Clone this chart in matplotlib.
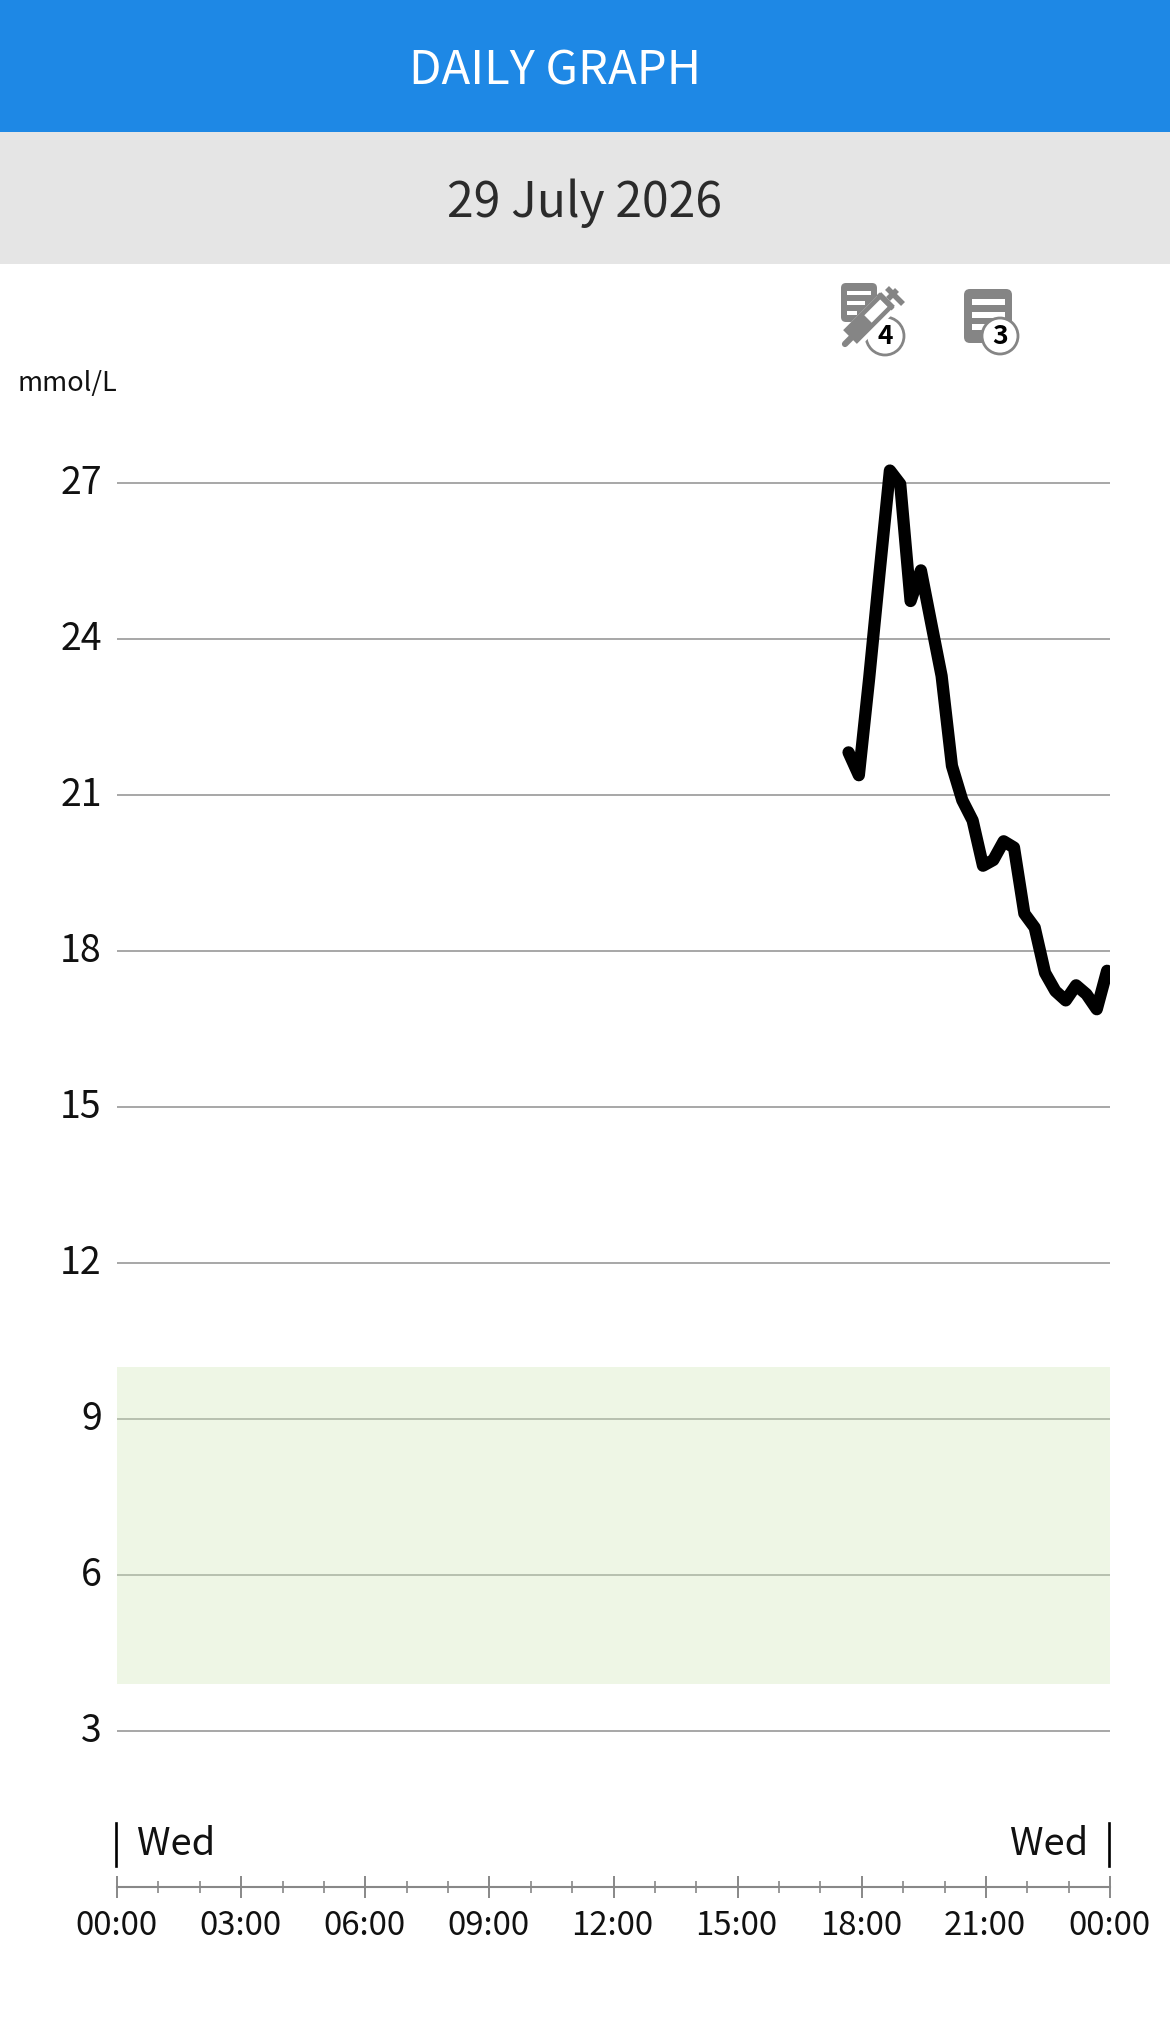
import matplotlib
matplotlib.use("Agg")
import matplotlib.pyplot as plt
from matplotlib.patches import Circle, FancyBboxPatch, Rectangle
from matplotlib.transforms import ScaledTranslation

# ==========================================================
# DATA
# ==========================================================

HOURS = [
    17.68, 17.93, 18.18, 18.43, 18.68, 18.93, 19.18, 19.43, 19.68, 19.93,
    20.18, 20.43, 20.68, 20.93, 21.18, 21.43, 21.68, 21.93, 22.18, 22.43,
    22.68, 22.93, 23.18, 23.43, 23.68, 23.93,
]
GLUCOSE = [
    21.82, 21.38, 23.25, 25.27, 27.24, 26.98, 24.73, 25.32, 24.30, 23.29,
    21.56, 20.90, 20.51, 19.64, 19.75, 20.11, 19.99, 18.72, 18.45, 17.58,
    17.23, 17.05, 17.34, 17.17, 16.88, 17.62,
]

Y_TICKS = [3, 6, 9, 12, 15, 18, 21, 24, 27]
X_MAJOR = [0, 3, 6, 9, 12, 15, 18, 21, 24]
X_MINOR = list(range(25))
X_LABELS = ["00:00", "03:00", "06:00", "09:00", "12:00", "15:00", "18:00", "21:00", "00:00"]

TARGET_LOW = 3.9
TARGET_HIGH = 10

TITLE = "DAILY GRAPH"
DATE = "29 July 2026"
UNIT = "mmol/L"
DAY = "Wed"

# ==========================================================
# STYLE
# ==========================================================

plt.rcParams["font.family"] = ["Noto Sans CJK SC", "DejaVu Sans"]

W, H = 1170, 2025
BLUE = "#1e88e5"
HEADER_GREY = "#e5e5e5"
GRID = "#a0a0a0"
ICON = "#858585"

fig = plt.figure(figsize=(W / 100, H / 100), dpi=100, facecolor="white")


def axes_px(left, top, right, bottom, **kw):
    return fig.add_axes(
        [left / W, 1 - bottom / H, (right - left) / W, (bottom - top) / H], **kw
    )


def nudge(label, dx, dy):
    label.set_transform(label.get_transform() + ScaledTranslation(dx / 100, dy / 100, fig.dpi_scale_trans))


# ==========================================================
# MAIN CHART
# ==========================================================

# 52 px per mmol/L, 27 sits at y=483
ax = axes_px(117, 379, 1110, 1835)
ax.set_xlim(0, 24)
ax.set_ylim(1, 29)
ax.patch.set_alpha(0)
for s in ax.spines.values():
    s.set_visible(False)

ax.set_yticks(Y_TICKS)
ax.tick_params(axis="y", length=0, pad=11, labelsize=27, labelcolor="#111111")
ax.set_xticks([])
for lab in ax.get_yticklabels():
    nudge(lab, 0, 4)
ax.grid(axis="y", color=GRID, linewidth=1.3, zorder=1)
ax.set_axisbelow(True)

# translucent band on top of the grid lines
ax.axhspan(TARGET_LOW, TARGET_HIGH, color="#d3e9bd", alpha=0.38, linewidth=0, zorder=2)

ax.plot(
    HOURS,
    GLUCOSE,
    color="black",
    linewidth=8.8,
    solid_capstyle="round",
    solid_joinstyle="round",
    zorder=3,
)

# ==========================================================
# TIME AXIS
# ==========================================================

tx = axes_px(117, 1820, 1110, 1887)
tx.set_xlim(0, 24)
tx.set_ylim(0, 1)
tx.patch.set_alpha(0)
for name in ["top", "left", "right"]:
    tx.spines[name].set_visible(False)
tx.spines["bottom"].set_color("#888888")
tx.spines["bottom"].set_linewidth(1.5)
tx.set_yticks([])
tx.set_xticks(X_MAJOR)
tx.set_xticklabels(X_LABELS)
tx.set_xticks(X_MINOR, minor=True)
tx.tick_params(axis="x", which="major", direction="inout", length=16.5, width=1.4,
               color="#888888", labelsize=23.7, pad=8.5, labelcolor="#111111")
tx.tick_params(axis="x", which="minor", direction="inout", length=8, width=1.2,
               color="#888888")
for lab in tx.get_xticklabels():
    nudge(lab, -1, 0)

# ==========================================================
# HEADER, TEXTS, ICONS (pixel overlay)
# ==========================================================

ov = axes_px(0, 0, W, H)
ov.set_xlim(0, W)
ov.set_ylim(H, 0)
ov.axis("off")
ov.patch.set_alpha(0)

ov.add_patch(Rectangle((0, 0), W, 132, color=BLUE, linewidth=0))
ov.add_patch(Rectangle((0, 132), W, 132, color=HEADER_GREY, linewidth=0))
ov.text(555, 71, TITLE, color="white", fontsize=34, ha="center", va="center")
ov.text(584.5, 203.5, DATE, color="#2b2b2b", fontsize=34.6, ha="center", va="center")
ov.text(17.5, 384, UNIT, color="#111111", fontsize=19.5, ha="left", va="center")

ov.plot([116, 116], [1823, 1866], color="black", linewidth=1.9)
ov.plot([1109, 1109], [1823, 1866], color="black", linewidth=1.9)
ov.text(136.5, 1844.5, DAY, color="#111111", fontsize=27.5, ha="left", va="center")
ov.text(1088.5, 1844.5, DAY, color="#111111", fontsize=27.5, ha="right", va="center")


def rounded(x0, y0, x1, y1, pad=5, color=ICON):
    ov.add_patch(FancyBboxPatch((x0 + pad, y0 + pad), x1 - x0 - 2 * pad, y1 - y0 - 2 * pad,
                                boxstyle=f"round,pad={pad}", color=color, linewidth=0))


def badge(cx, cy, r, label):
    ov.add_patch(Circle((cx, cy), r, facecolor="white", edgecolor=ICON, linewidth=2))
    ov.text(cx, cy + 1, label, color="black", fontsize=19, fontweight="bold",
            ha="center", va="center")


# note + syringe icon
rounded(841, 283, 877, 322)
for y0, y1, x1 in [(291, 295, 871), (301, 305, 865), (311, 315, 857)]:
    ov.add_patch(Rectangle((847, y0), x1 - 847, y1 - y0, color="white", linewidth=0))
ov.plot([846, 898], [344, 292], color="white", linewidth=17, solid_capstyle="butt")
ov.plot([845, 855], [344, 334], color=ICON, linewidth=4.5, solid_capstyle="round")
ov.plot([850, 888], [337, 299], color=ICON, linewidth=14, solid_capstyle="butt")
ov.plot([868, 884], [319, 303], color="white", linewidth=7.5, solid_capstyle="butt")
ov.plot([878, 893], [294, 309], color=ICON, linewidth=3, solid_capstyle="butt")
ov.plot([888, 897], [299, 290], color=ICON, linewidth=4, solid_capstyle="butt")
ov.plot([887, 903], [288, 304], color=ICON, linewidth=4, solid_capstyle="butt")
badge(885, 336, 19, "4")

# note icon
rounded(964, 289, 1012, 343, pad=6)
for y0, y1 in [(299, 305), (312, 318), (324, 330)]:
    ov.add_patch(Rectangle((972, y0), 33, y1 - y0, color="white", linewidth=0))
badge(1000, 336, 18, "3")

fig.savefig("out.png", dpi=100)
